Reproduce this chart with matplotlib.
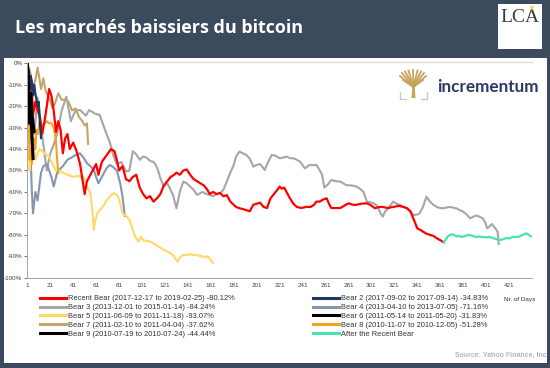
import matplotlib
matplotlib.use("Agg")
import matplotlib.pyplot as plt
from matplotlib.patches import Rectangle, Polygon
from matplotlib.lines import Line2D

# ---------------- data ----------------
recent_days = [1, 3, 5, 6, 8, 10, 12, 14, 16, 18, 20, 22, 24, 26, 28, 30, 32, 34, 36, 38, 41, 44, 47, 49, 51, 53, 55, 58,
               61, 63, 66, 70, 74, 77, 79, 81, 84, 87, 90, 93, 96, 99, 102, 105, 108, 111, 114, 117, 120, 123, 126, 129,
               131, 134, 137, 140, 143, 146, 149, 152, 155, 158, 160, 163, 166, 169, 172, 175, 178, 181, 183, 186, 189,
               192, 195, 198, 201, 204, 207, 210, 213, 216, 219, 221, 223, 225, 228, 230, 233, 236, 240, 244, 248, 251,
               253, 256, 259, 262, 264, 266, 270, 274, 277, 281, 285, 288, 292, 297, 300, 304, 308, 311, 315, 320, 325,
               329, 332, 335, 338, 341, 343, 346, 349, 352, 355, 358, 361, 364]
recent_vals = [-1, -6, -14, -24, -18, -22, -25, -33, -27, -20, -12, -15, -22, -32, -27, -31, -42, -35, -33, -40, -37, -41,
               -47, -54, -61, -55, -53, -50, -47, -52, -46, -43, -40, -41, -45, -50, -48, -54, -55, -53, -52, -58, -61,
               -63, -62, -64.5, -63, -61, -57, -55, -53, -52, -51, -52, -50, -49.5, -52, -54, -55, -56, -57, -59, -61,
               -60, -61, -60.5, -62, -61.5, -64.5, -66, -67, -67.6, -68, -68.5, -69, -66, -65.5, -65, -67, -67.5, -63,
               -61, -59, -57.5, -58.5, -58, -61, -63, -65.5, -67, -67.5, -67, -67, -66, -64.5, -64.5, -63.5, -63,
               -65.5, -67.5, -67.5, -67.5, -66.5, -65.3, -66, -66, -65.5, -65.3, -66, -67.6, -67, -67, -67.5, -67,
               -66.5, -67, -67.6, -69, -73, -77, -77.5, -78.5, -79.5, -80, -80.5, -81.6, -82.5, -83.5]

after_days = [364, 366, 368, 370, 372, 375, 377, 380, 383, 386, 389, 392, 395, 398, 401, 404, 407, 410, 413, 416, 419,
              421, 424, 427, 430, 433, 436, 438, 440]
after_vals = [-83.5, -82, -80.5, -80, -79.8, -80.7, -80.5, -81, -80.5, -80, -80.5, -81, -80.8, -81, -81.2, -81, -81.5,
              -82, -82.4, -82, -81.5, -81.7, -81, -81, -80.8, -80, -79.3, -80, -80.7]

bear3_days = [1, 4, 7, 10, 13, 16, 18, 21, 24, 27, 31, 35, 39, 43, 47, 52, 55, 60, 64, 68, 73, 76, 79, 83, 87, 90, 93,
              96, 99, 102, 105, 108, 111, 113, 115, 117, 120, 123, 125, 128, 131, 134, 137, 140, 143, 146, 149, 152, 154,
              157, 160, 163, 166, 169, 172, 175, 178, 181, 183, 186, 189, 192, 195, 198, 201, 204, 208, 211, 214, 217,
              221, 224, 227, 230, 233, 236, 239, 243, 247, 250, 253, 256, 258, 260, 263, 266, 270, 274, 279, 284, 288,
              291, 294, 297, 300, 303, 305, 307, 309, 311, 313, 316, 318, 320, 323, 326, 329, 332, 335, 338, 341, 343,
              346, 349, 352, 355, 358, 361, 364, 367, 370, 373, 375, 378, 381, 384, 387, 390, 392, 395, 398, 400, 402,
              404, 406, 409, 411, 412]
bear3_vals = [0, -5, -33, -16, -30, -42, -50, -42, -38, -33, -22, -15.6, -27, -22, -21.8, -24.4, -21.8, -23.5, -24, -30,
              -37, -43, -47, -46, -50.5, -50, -41, -42.5, -45, -43.5, -44, -45.5, -46, -47.4, -50, -53.6, -57.5, -56,
              -58, -61.4, -67.6, -59.9, -55.2, -56, -57.5, -59, -61.4, -60.5, -60, -61, -61.4, -62, -61, -60.6, -59,
              -55, -51, -47.4, -43.5, -41.2, -42, -42.8, -44.5, -48.2, -47.4, -47, -49.8, -46, -42.8, -43, -44.3, -44,
              -43.5, -44.3, -44.3, -45, -46, -49, -47.4, -47.5, -47.4, -50, -52, -58, -56.5, -54.4, -55, -55.2, -56.8,
              -57, -57.5, -58.5, -59.9, -64.5, -64.8, -65.3, -66, -67.6, -70, -71.5, -69, -67.6, -66, -64.5, -65.5,
              -66, -67, -67.6, -69.5, -70.8, -70.5, -70, -66.9, -62.2, -64.5, -66, -67, -67.5, -67.6, -67.2, -67, -67.5,
              -67.6, -68.5, -69.2, -70.5, -72.3, -71.5, -71, -71.5, -72.3, -74, -77, -76, -75, -77, -78.5, -84.24]

bear5_days = [1, 2, 3, 4, 6, 8, 10, 12, 16, 20, 23, 26, 29, 32, 36, 41, 45, 50, 53, 56, 58, 59, 60, 62, 65, 67, 70, 73,
              75, 77, 80, 82, 84, 87, 90, 92, 95, 98, 100, 102, 105, 108, 111, 113, 117, 120, 124, 128, 130, 132, 134,
              137, 140, 143, 146, 149, 152, 154, 156, 158, 160, 162, 163]
bear5_vals = [0, -20, -50, -38, -36, -45, -42, -40, -42, -43.5, -47, -50, -50, -51, -52, -53, -52.5, -53, -57.5, -60.6,
              -70, -77.7, -74, -70, -68, -66.9, -64, -62.2, -61, -60.6, -62, -65.3, -70, -71, -73, -76, -80.9, -83.2,
              -81, -82.4, -83, -83, -84, -84.7, -86, -87, -88, -89.4, -91, -92.5, -90.5, -89.4, -89.5, -89, -89.5,
              -89.4, -90, -90, -90.5, -90, -91, -92.5, -93.07]

bear7_days = [1, 3, 6, 8, 10, 13, 15, 17, 20, 23, 25, 28, 31, 34, 37, 40, 43, 46, 49, 51, 53, 54]
bear7_vals = [0, -4, -11, -8, -2, -12, -7, -13, -16, -21, -19, -14, -17, -17, -18, -22, -21, -25, -27, -29, -28, -37.62]

bear9_days = [1, 2, 3, 4, 5, 6]
bear9_vals = [0, -12, -28, -22, -33, -44.44]

bear2_days = [1, 2, 3, 4, 5, 6, 7, 8, 9, 10, 11, 12, 13]
bear2_vals = [0, -3, -12, -6, -9, -15, -10, -14, -17, -20, -18, -28, -34.83]

bear4_days = [1, 2, 3, 4, 5, 6, 8, 10, 12, 13, 15, 18, 20, 22, 24, 27, 30, 32, 36, 41, 44, 47, 50, 53, 56, 59, 61, 63,
              65, 67, 70, 73, 76, 79, 82, 84, 86]
bear4_vals = [0, -5, -25, -45, -60, -70, -60, -64, -55, -51, -48, -47, -50, -53, -57.5, -51, -49, -48, -45, -43.5, -42.5,
              -42, -44, -46.6, -48, -49.8, -53, -56, -54, -52, -49, -47.4, -48.5, -50, -56, -62, -71.16]

bear6_days = [1, 2, 3, 4, 5, 6, 7]
bear6_vals = [0, -10, -20, -14, -24, -28, -31.83]

bear8_days = [1, 2, 3, 4, 5, 6, 7, 8, 9, 10, 11, 12, 14, 16, 18, 20, 22, 24, 26, 27, 28]
bear8_vals = [0, -20, -45, -40, -47, -38, -35, -40, -31, -33, -30, -27, -29, -28, -27, -28, -28, -30, -36, -45, -51.28]

labels = ["Recent Bear (2017-12-17 to 2019-02-25) -80.12%",
          "Bear 3 (2013-12-01 to 2015-01-14) -84.24%",
          "Bear 5 (2011-06-09 to 2011-11-18) -93.07%",
          "Bear 7 (2011-02-10 to 2011-04-04) -37.62%",
          "Bear 9 (2010-07-19 to 2010-07-24) -44.44%",
          "Bear 2 (2017-09-02 to 2017-09-14) -34.83%",
          "Bear 4 (2013-04-10 to 2013-07-05) -71.16%",
          "Bear 6 (2011-05-14 to 2011-05-20) -31.83%",
          "Bear 8 (2010-11-07 to 2010-12-05) -51.28%",
          "After the Recent Bear"]

x_ticks = list(range(1, 422, 20))
y_ticks = list(range(0, -101, -10))

# ---------------- figure ----------------
plt.rcParams["font.family"] = ["Liberation Sans", "DejaVu Sans"]
W, H = 550, 368
fig = plt.figure(figsize=(5.5, 3.68), dpi=100, facecolor="#3b4a5c")


def fx(x):
    return x / W


def fy(y):
    return 1 - y / H


panel = Rectangle((fx(4), fy(363)), fx(547) - fx(4), fy(58) - fy(363), transform=fig.transFigure,
                  facecolor="white", edgecolor="none", zorder=-5)
fig.add_artist(panel)

# title
fig.text(fx(15), fy(33), "Les marchés baissiers du bitcoin", family=["Open Sans", "DejaVu Sans"],
         weight="bold", fontsize=13, color="white", va="baseline", ha="left")

# LCA logo
fig.add_artist(Rectangle((fx(498), fy(49)), fx(542) - fx(498), fy(4) - fy(49), transform=fig.transFigure,
                         facecolor="white", edgecolor="none", zorder=1))
fig.text(fx(520), fy(17), "LCA", family=["Liberation Serif", "DejaVu Serif"], fontsize=14, color="#3c3c3c",
         ha="center", va="center", zorder=2)
fig.add_artist(Polygon([(fx(530), fy(6)), (fx(534), fy(6)), (fx(532), fy(11))], closed=True,
                       transform=fig.transFigure, facecolor="#f2dc2a", edgecolor="none", zorder=3))

# axes
ax = fig.add_axes([fx(27.3), fy(277.7), fx(532) - fx(27.3), fy(62) - fy(277.7)])
ax.set_facecolor("white")

series = [
    (bear3_days, bear3_vals, "#a6a6a6", 1.5, labels[1]),
    (bear4_days, bear4_vals, "#8497b0", 1.5, labels[6]),
    (bear5_days, bear5_vals, "#ffd966", 1.5, labels[2]),
    (bear7_days, bear7_vals, "#c2a66a", 1.5, labels[3]),
    (bear8_days, bear8_vals, "#f5a21f", 1.5, labels[8]),
    (recent_days, recent_vals, "#ff0000", 1.6, labels[0]),
    (after_days, after_vals, "#45e3b5", 1.6, labels[9]),
    (bear2_days, bear2_vals, "#1f3864", 1.6, labels[5]),
    (bear6_days, bear6_vals, "#000000", 2.2, labels[7]),
    (bear9_days, bear9_vals, "#000000", 2.2, labels[4]),
]
handles = {}
for d, v, c, lw, lab in series:
    ln, = ax.plot(d, v, color=c, lw=lw, label=lab, solid_joinstyle="round")
    handles[lab] = ln

ax.set_xlim(1, 441)
ax.set_ylim(-100, 0.6)
ax.set_xticks(x_ticks)
ax.set_xticklabels([str(t) for t in x_ticks])
ax.set_yticks(y_ticks)
ax.set_yticklabels([f"{t}%" for t in y_ticks])
ax.tick_params(axis="both", labelsize=4.5, colors="#404040", length=2, width=0.5, pad=1.5)
ax.tick_params(axis="x", length=0, pad=4)
for s in ["left", "bottom"]:
    ax.spines[s].set_color("#a6a6a6")
    ax.spines[s].set_linewidth(0.7)
ax.spines["top"].set_color("#d9d9d9")
ax.spines["top"].set_linewidth(0.8)
ax.spines["right"].set_visible(False)

# incrementum logo
gold = "#c6a35a"
fig.add_artist(Polygon([(fx(411.5), fy(98)), (fx(415.5), fy(98)), (fx(414.5), fy(85)), (fx(412.5), fy(85))],
                       closed=True, transform=fig.transFigure, facecolor=gold, edgecolor="none"))
for tx, ty in [(400, 76), (402, 73), (405, 71.5), (408.5, 70.5), (413, 70), (417.5, 70.5), (421, 71.5), (424, 73),
               (426, 76), (403, 80), (423, 80)]:
    fig.add_artist(Line2D([fx(413.5), fx(tx)], [fy(87), fy(ty)], transform=fig.transFigure, color=gold, lw=1.3))
fig.add_artist(Line2D([fx(400), fx(400), fx(406)], [fy(92), fy(99), fy(99)], transform=fig.transFigure,
                      color="#c8c8c8", lw=1.0))
fig.add_artist(Line2D([fx(427), fx(427), fx(421)], [fy(92), fy(99), fy(99)], transform=fig.transFigure,
                      color="#c8c8c8", lw=1.0))
fig.text(fx(437), fy(87), "incrementum", family=["Lato", "DejaVu Sans"], weight="bold", fontsize=12.3,
         color="#2b3a66", ha="left", va="center")

# legends
left_labels = [labels[0], labels[1], labels[2], labels[3], labels[4]]
right_labels = [labels[5], labels[6], labels[7], labels[8], labels[9]]
common = dict(frameon=False, fontsize=5.4, borderpad=0, borderaxespad=0, handlelength=3.5, handletextpad=0.2,
              labelspacing=0.22, labelcolor="#333333")
leg1 = fig.legend([handles[l] for l in left_labels], left_labels, loc="upper left",
                  bbox_to_anchor=(fx(40), fy(295)), **common)
leg2 = fig.legend([handles[l] for l in right_labels], right_labels, loc="upper left",
                  bbox_to_anchor=(fx(313), fy(295)), **common)
for lg in (leg1, leg2):
    for h in lg.legend_handles:
        h.set_linewidth(2.2)

fig.text(fx(520), fy(299), "Nr. of Days", fontsize=4.6, color="#333333", ha="center", va="center")
src = fig.text(fx(455), fy(357), "Source: Yahoo Finance, Incrementum AG", fontsize=5, color="#b5b5b5",
               weight="bold", ha="left", va="baseline")
src.set_clip_path(panel)

fig.savefig("out.png", dpi=100, facecolor=fig.get_facecolor())
